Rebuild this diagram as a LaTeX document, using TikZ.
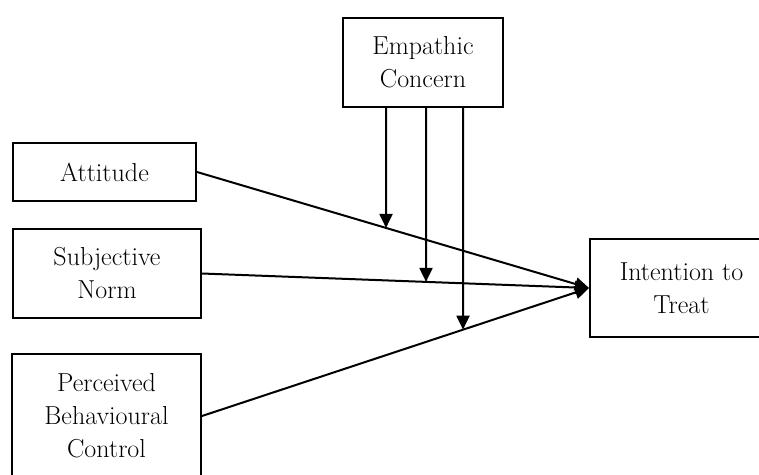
\documentclass[tikz,border=0pt]{standalone}
\usepackage{fontspec}
\setmainfont{Latin Modern Roman}
\usetikzlibrary{arrows.meta,intersections,calc}
\newcommand{\boxfont}{\fontsize{26}{33}\selectfont}
\begin{document}
\begin{tikzpicture}[x=1pt,y=-1pt,
  box/.style={draw,line width=2pt,rectangle,align=center,inner sep=0pt,
    font=\boxfont},
  conn/.style={line width=2pt,-{Triangle[length=14pt,width=13pt]}}]
\useasboundingbox[fill=white] (0,0) rectangle (759,474);
\node[box,minimum width=160pt,minimum height=89pt] (ec) at (423,62.5) {Empathic\\Concern};
\node[box,minimum width=183pt,minimum height=58pt] (att) at (104.5,172) {Attitude};
\node[box,minimum width=188pt,minimum height=89pt] (sn) at (107,273.5) {Subjective\\Norm};
\node[box,minimum width=189pt,minimum height=124pt] (pbc) at (106.5,416) {Perceived\\Behavioural\\Control};
\node[box,minimum width=183pt,minimum height=98pt] (itt) at (681.5,288) {Intention to\\Treat};
\draw[conn,name path=la] (att.east) -- (itt.west);
\draw[conn,name path=lb] (sn.east) -- (itt.west);
\draw[conn,name path=lc] (pbc.east) -- (itt.west);
\coordinate (t1) at (386,0 |- ec.south);
\coordinate (t2) at (426,0 |- ec.south);
\coordinate (t3) at (463,0 |- ec.south);
\path[name path=v1] (t1) -- ++(0,300);
\path[name path=v2] (t2) -- ++(0,300);
\path[name path=v3] (t3) -- ++(0,300);
\path[name intersections={of=la and v1,by=i1}];
\path[name intersections={of=lb and v2,by=i2}];
\path[name intersections={of=lc and v3,by=i3}];
\draw[conn] (t1) -- (i1);
\draw[conn] (t2) -- (i2);
\draw[conn] (t3) -- (i3);
\end{tikzpicture}
\end{document}
